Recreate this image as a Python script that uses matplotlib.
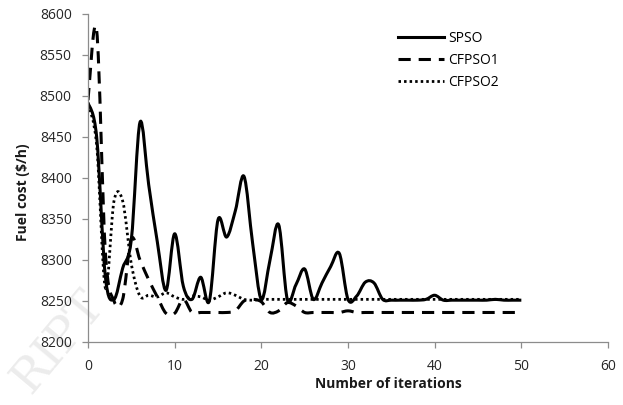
import numpy as np
import matplotlib.pyplot as plt
from matplotlib.path import Path
from matplotlib.patches import PathPatch
from matplotlib.lines import Line2D

plt.rcParams["font.family"] = ["Open Sans", "DejaVu Sans"]

# ---------------- data ----------------
iterations = list(range(51))

spso = [8492, 8450, 8280, 8252, 8290, 8325, 8468, 8392, 8322, 8263,
        8332, 8268, 8252, 8279, 8250, 8349, 8328, 8360, 8402, 8320,
        8252, 8300, 8343, 8252, 8270, 8289, 8252, 8272, 8292, 8308,
        8252, 8256, 8273, 8272, 8252, 8251, 8251, 8251, 8251, 8252,
        8257, 8251, 8251, 8251, 8251, 8251, 8251, 8252, 8251, 8251,
        8251]

cfpso1 = [8495, 8580, 8310, 8250, 8252, 8326, 8300, 8276, 8255, 8235,
          8235, 8252, 8236, 8236, 8236, 8236, 8236, 8238, 8250, 8252,
          8249, 8236, 8238, 8248, 8244, 8236, 8236, 8236, 8236, 8236,
          8238, 8236, 8236, 8236, 8236, 8236, 8236, 8236, 8236, 8236,
          8236, 8236, 8236, 8236, 8236, 8236, 8236, 8236, 8236, 8236,
          8236]

cfpso2 = [8490, 8440, 8266, 8372, 8372, 8295, 8256, 8257, 8255, 8260,
          8255, 8252, 8256, 8255, 8251, 8255, 8260, 8257, 8252, 8251,
          8252, 8252, 8252, 8252, 8252, 8252, 8252, 8252, 8252, 8252,
          8252, 8252, 8252, 8252, 8252, 8252, 8252, 8252, 8252, 8252,
          8252, 8252, 8252, 8252, 8252, 8252, 8252, 8252, 8252, 8252,
          8252]

series_names = ["SPSO", "CFPSO1", "CFPSO2"]


# Excel style "smoothed line": cubic bezier through each point
def smooth_path(x, y):
    p = np.column_stack([x, y]).astype(float)
    n = len(p)
    verts = [p[0]]
    codes = [Path.MOVETO]
    for i in range(n - 1):
        p0 = p[max(i - 1, 0)]
        p1 = p[i]
        p2 = p[i + 1]
        p3 = p[min(i + 2, n - 1)]
        c1 = p1 + (p2 - p0) / 6.0
        c2 = p2 - (p3 - p1) / 6.0
        verts += [c1, c2, p2]
        codes += [Path.CURVE4] * 3
    return Path(verts, codes)


fig = plt.figure(figsize=(6.23, 4.05), dpi=100)

# faint watermark in lower left corner, behind everything
fig.text(0.005, 0.01, "RIPT", fontsize=34, family="DejaVu Serif",
         color="#ececec", rotation=50, ha="left", va="bottom", zorder=-5)

ax = fig.add_axes([88 / 623, 1 - 342 / 405, 520 / 623, 328 / 405])
ax.patch.set_alpha(0)

styles = [
    dict(linestyle="-", linewidth=2.2),
    dict(linestyle=(0, (4, 2.6)), linewidth=2.2),
    dict(linestyle=(0, (0.9, 1.1)), linewidth=2.0),
]

handles = []
for vals, st, name in zip([spso, cfpso1, cfpso2], styles, series_names):
    patch = PathPatch(smooth_path(iterations, vals), fill=False,
                      edgecolor="black", transform=ax.transData,
                      capstyle="butt", joinstyle="round", **st)
    ax.add_patch(patch)
    handles.append(Line2D([], [], color="black", **st))

ax.set_xlim(0, 60)
ax.set_ylim(8200, 8600)
ax.set_xticks(range(0, 61, 10))
ax.set_yticks(range(8200, 8601, 50))

for side in ["top", "right"]:
    ax.spines[side].set_visible(False)
for side in ["left", "bottom"]:
    ax.spines[side].set_color("#8c8c8c")
    ax.spines[side].set_linewidth(0.9)
ax.tick_params(axis="both", colors="#8c8c8c", length=4.2, width=0.9,
               labelcolor="#262626", labelsize=10)
ax.tick_params(axis="x", pad=8)
ax.tick_params(axis="y", pad=7.5)

fig.text(388 / 623, 1 - 384 / 405, "Number of iterations", ha="center",
         va="center", fontsize=10, fontweight="bold", color="#1a1a1a")
fig.text(23 / 623, 1 - 192 / 405, "Fuel cost ($/h)", ha="center",
         va="center", rotation=90, fontsize=10, fontweight="bold",
         color="#1a1a1a")

ax.legend(handles, series_names, loc="upper left",
          bbox_to_anchor=(398 / 623, 1 - 31 / 405),
          bbox_transform=fig.transFigure, frameon=False, fontsize=10,
          handlelength=3.3, handletextpad=0.3, labelspacing=0.5,
          borderpad=0, borderaxespad=0)

fig.savefig("out.png", dpi=100)
